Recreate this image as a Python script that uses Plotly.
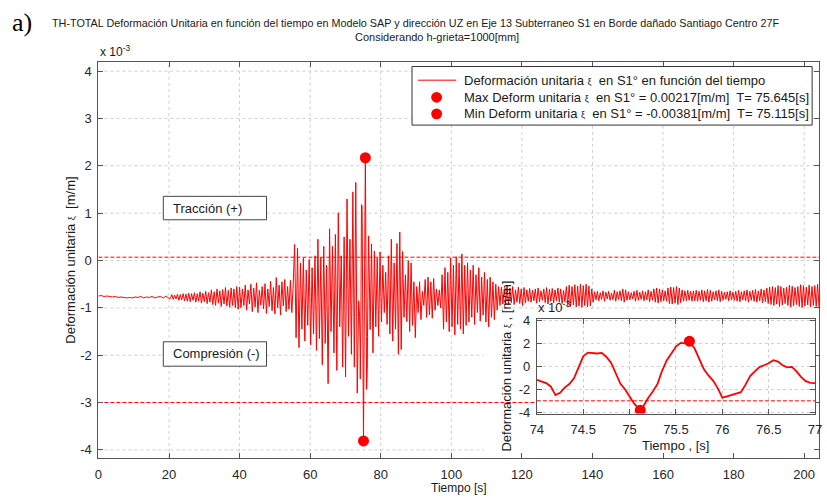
import numpy as np
import plotly.graph_objects as go

# ---------------------------------------------------------------------------
# Unit strain time history (values in x10^-3 m/m), S1 edge, axis 13
# Each window lists the successive peaks/troughs of the record, evenly
# spaced between the window's start and end time.
# ---------------------------------------------------------------------------
quiet_t = (0.0, 20.0)
quiet_v = [-0.75, -0.74, -0.76, -0.75, -0.76, -0.77, -0.76, -0.78, -0.77, -0.78,
           -0.79, -0.78, -0.79, -0.77, -0.78, -0.76, -0.79, -0.77, -0.78, -0.76,
           -0.79, -0.77, -0.76, -0.79, -0.75, -0.80]

onset_t = (20.4, 40.0)
onset_v = [-0.80, -0.72, -0.82, -0.73, -0.81, -0.71, -0.84, -0.72, -0.83, -0.70,
           -0.85, -0.71, -0.86, -0.69, -0.87, -0.70, -0.84, -0.68, -0.88, -0.70,
           -0.86, -0.66, -0.90, -0.69, -0.87, -0.65, -0.91, -0.68, -0.88, -0.62,
           -0.93, -0.66, -0.95, -0.60, -0.90, -0.64, -0.97, -0.61, -0.92, -0.57,
           -0.96, -0.63, -0.99, -0.58, -0.95, -0.60, -1.00, -0.55, -1.03, -0.56]

build_t = (40.4, 55.2)
build_v = [-1.00, -0.60, -0.95, -0.52, -1.05, -0.62, -0.92, -0.50, -1.08, -0.58,
           -0.98, -0.47, -1.10, -0.63, -0.94, -0.55, -1.02, -0.49, -1.12, -0.60,
           -0.97, -0.44, -1.06, -0.57, -1.13, -0.36, -1.00, -0.52, -1.15, -0.45,
           -0.96, -0.40, -1.08, -0.55, -1.03, -0.42, -1.10, -0.50]

strong_t = (55.6, 73.75)
strong_v = [0.34, -1.63, 0.26, -1.84, -0.05, -1.45, 0.05, -1.70, -0.20, -1.37,
            0.02, -1.78, -0.15, -1.55, 0.10, -1.90, 0.45, -1.65, 0.07, -2.20,
            0.30, -1.75, -0.10, -2.60, 0.67, -1.50, 0.30, -1.95, 0.55, -2.32,
            1.01, -1.40, 0.10, -2.25, 0.50, -2.46, 1.30, -1.60, 0.45, -1.98,
            1.45, -2.25, 1.65, -2.80, -0.85]

# detailed window around the extremes (0.05 s sampling)
zoom_t = (74.0, 77.0)
zoom_v = [-1.18, -1.30, -1.46, -1.75, -2.50, -2.30, -1.85, -1.55, -1.05, -0.10,
          0.85, 1.18, 1.12, 1.10, 1.15, 0.80, 0.30, -0.55, -1.50, -2.00,
          -2.60, -3.25, -3.70, -3.45, -2.75, -2.20, -1.55, -0.40, 0.50, 1.10,
          1.70, 2.02, 1.98, 2.10, 1.55, 0.60, -0.25, -0.80, -1.25, -1.90,
          -2.72, -2.62, -2.50, -2.35, -2.25, -1.60, -0.85, -0.45, -0.08, 0.08,
          0.25, 0.52, 0.40, 0.08, -0.10, -0.06, -0.45, -0.95, -1.30, -1.45,
          -1.46]

decay_t = (77.4, 89.8)
decay_v = [0.35, -1.95, 0.20, -1.40, 0.05, -1.60, 0.18, -1.30, -0.10, -1.10,
           -0.25, -1.35, 0.10, -1.55, 0.45, -1.70, -0.05, -1.45, 0.36, -1.98,
           0.60, -1.88, 0.19, -1.20, -0.30, -1.29, 0.00, -1.50, -0.05, -1.37,
           -0.45, -1.63]

coda_t = (90.2, 112.2)
coda_v = [-0.55, -1.10, -0.45, -1.25, -0.65, -0.95, -0.40, -1.20, -0.35, -1.15,
          -0.45, -1.22, -0.38, -1.05, -0.60, -0.95, -0.62, -1.00, -0.30, -1.45,
          -0.15, -1.30, -0.25, -1.50, 0.05, -1.40, -0.10, -1.57, 0.08, -1.35,
          -0.05, -1.45, 0.14, -1.55, -0.10, -1.37, -0.05, -1.30, -0.20, -1.20,
          -0.10, -1.35, -0.30, -1.10, -0.15, -1.28, -0.35, -1.15, -0.25, -1.30,
          -0.40, -1.40, -0.35, -1.20, -0.45, -1.25]

tail1_t = (112.6, 140.2)
tail1_v = [-0.50, -1.05, -0.55, -0.95, -0.56, -0.92, -0.60, -0.90, -0.54, -0.94,
           -0.58, -0.89, -0.55, -0.93, -0.62, -0.88, -0.56, -0.91, -0.60, -0.95,
           -0.57, -0.90, -0.62, -0.86, -0.59, -0.88, -0.63, -0.85, -0.60, -0.90,
           -0.58, -0.87, -0.64, -0.84, -0.60, -0.89, -0.57, -0.92, -0.61, -0.86,
           -0.59, -0.90, -0.62, -0.85, -0.58, -0.88, -0.60, -0.91, -0.63, -0.87,
           -0.55, -0.95, -0.52, -0.97, -0.55, -0.94, -0.51, -0.98, -0.54, -0.96,
           -0.50, -0.99, -0.53, -0.95, -0.50, -0.98, -0.54, -0.96, -0.60, -0.88]

tail2_t = (140.6, 168.2)
tail2_v = [-0.66, -0.83, -0.65, -0.85, -0.68, -0.82, -0.64, -0.86, -0.67, -0.81,
           -0.65, -0.84, -0.69, -0.83, -0.63, -0.86, -0.66, -0.82, -0.64, -0.85,
           -0.60, -0.88, -0.62, -0.84, -0.66, -0.83, -0.68, -0.81, -0.65, -0.86,
           -0.63, -0.84, -0.67, -0.82, -0.64, -0.85, -0.66, -0.83, -0.62, -0.87,
           -0.65, -0.84, -0.60, -0.88, -0.58, -0.90, -0.60, -0.87, -0.62, -0.85,
           -0.64, -0.86, -0.58, -0.91, -0.56, -0.92, -0.57, -0.90, -0.55, -0.93,
           -0.58, -0.89, -0.62, -0.86, -0.64, -0.85, -0.63, -0.84, -0.65, -0.86]

tail3_t = (168.6, 204.2)
tail3_v = [-0.64, -0.85, -0.63, -0.86, -0.65, -0.84, -0.62, -0.87, -0.64, -0.85,
           -0.61, -0.88, -0.63, -0.86, -0.66, -0.83, -0.64, -0.85, -0.62, -0.87,
           -0.65, -0.84, -0.67, -0.82, -0.66, -0.85, -0.64, -0.83, -0.67, -0.84,
           -0.65, -0.86, -0.63, -0.87, -0.66, -0.83, -0.64, -0.85, -0.62, -0.88,
           -0.65, -0.84, -0.63, -0.86, -0.61, -0.88, -0.64, -0.85, -0.60, -0.89,
           -0.62, -0.87, -0.58, -0.91, -0.56, -0.93, -0.55, -0.95, -0.57, -0.92,
           -0.53, -0.97, -0.55, -0.94, -0.58, -0.91, -0.56, -0.95, -0.52, -0.98,
           -0.54, -0.96, -0.57, -0.93, -0.55, -0.97, -0.51, -0.99, -0.53, -0.96,
           -0.56, -0.94, -0.52, -0.98, -0.55, -0.95, -0.53, -0.97, -0.50, -0.99]

# extremes of the record
t_max, v_max = 75.645, 2.17
t_min, v_min = 75.115, -3.81

# reference strain limits (x10^-3)
lim_traccion = 0.07
lim_compresion = -3.0

# axis ticks
x_ticks = [0, 20, 40, 60, 80, 100, 120, 140, 160, 180, 200]
y_ticks = [-4, -3, -2, -1, 0, 1, 2, 3, 4]
zx_ticks = [74, 74.5, 75, 75.5, 76, 76.5, 77]
zy_ticks = [-4, -2, 0, 2, 4]


def fmt(v):
    return "%g" % v


windows = [(quiet_t, quiet_v), (onset_t, onset_v), (build_t, build_v),
           (strong_t, strong_v), (zoom_t, zoom_v), (decay_t, decay_v),
           (coda_t, coda_v), (tail1_t, tail1_v), (tail2_t, tail2_v),
           (tail3_t, tail3_v)]

t_all, v_all = [], []
for (a, b), vals in windows:
    t_all.extend(np.linspace(a, b, len(vals)))
    v_all.extend(vals)
t_all += [t_max, t_min]
v_all += [v_max, v_min]
order = np.argsort(t_all)
t_all = np.asarray(t_all)[order]
v_all = np.asarray(v_all)[order]

zt = list(np.linspace(zoom_t[0], zoom_t[1], len(zoom_v))) + [t_max, t_min]
zv = list(zoom_v) + [v_max, v_min]
zo = np.argsort(zt)
zt = np.asarray(zt)[zo]
zv = np.asarray(zv)[zo]

# ---------------------------------------------------------------------------
W, H = 827, 503
FONT = "Liberation Sans, Arial, sans-serif"
AX = "#555555"
GRID = "#cfcfcf"
RED = "#ff0000"


def px(x):
    return x / W


def py(y):
    return 1 - y / H


X_MAX = 204.2
Y_LO, Y_HI = -4.17, 4.2
# region kept clear of main-grid lines behind the inset (data units)
clear_t = 109.3
clear_v = -1.02

fig = go.Figure()

# main record
fig.add_trace(go.Scatter(x=t_all, y=v_all, mode="lines",
                         line=dict(color=RED, width=1), hoverinfo="skip"))
for lim in (lim_traccion, lim_compresion):
    fig.add_trace(go.Scatter(x=[0, X_MAX], y=[lim, lim], mode="lines",
                             line=dict(color=RED, width=1, dash="4px,2px"),
                             hoverinfo="skip"))
fig.add_trace(go.Scatter(x=[t_max, t_min], y=[v_max, v_min], mode="markers",
                         marker=dict(color=RED, size=11), hoverinfo="skip"))

# inset
fig.add_trace(go.Scatter(x=[zoom_t[0], zoom_t[1]], y=[lim_compresion, lim_compresion],
                         mode="lines", xaxis="x2", yaxis="y2",
                         line=dict(color=RED, width=1, dash="4px,2px"),
                         hoverinfo="skip"))
fig.add_trace(go.Scatter(x=zt, y=zv, mode="lines", xaxis="x2", yaxis="y2",
                         line=dict(color=RED, width=1.8), hoverinfo="skip"))
fig.add_trace(go.Scatter(x=[t_max, t_min], y=[v_max, v_min], mode="markers",
                         xaxis="x2", yaxis="y2",
                         marker=dict(color=RED, size=11), hoverinfo="skip"))

shapes = []
# main grid (dotted), kept out of the inset area
for xt in x_ticks[1:]:
    y0 = clear_v if xt > clear_t else Y_LO
    shapes.append(dict(type="line", xref="x", yref="y", x0=xt, x1=xt, y0=y0, y1=Y_HI,
                       line=dict(color=GRID, width=1, dash="dot"), layer="below"))
for yt in y_ticks:
    x1 = clear_t if yt < clear_v else X_MAX
    shapes.append(dict(type="line", xref="x", yref="y", x0=0, x1=x1, y0=yt, y1=yt,
                       line=dict(color=GRID, width=1, dash="dot"), layer="below"))

# legend box
shapes.append(dict(type="rect", xref="paper", yref="paper",
                   x0=px(412), x1=px(819), y0=py(122), y1=py(62),
                   fillcolor="white", line=dict(color="#333333", width=1), layer="above"))
shapes.append(dict(type="line", xref="paper", yref="paper",
                   x0=px(418), x1=px(457), y0=py(76), y1=py(76),
                   line=dict(color=RED, width=1), layer="above"))
for yc in (93.5, 110.5):
    shapes.append(dict(type="circle", xref="paper", yref="paper",
                       x0=px(437 - 5.5), x1=px(437 + 5.5), y0=py(yc + 5.5), y1=py(yc - 5.5),
                       fillcolor=RED, line=dict(color=RED, width=0), layer="above"))

# Tracción / Compresión boxes
for (ytop, ybot) in ((195, 219), (344, 369)):
    shapes.append(dict(type="rect", xref="paper", yref="paper",
                       x0=px(159), x1=px(264), y0=py(ybot), y1=py(ytop),
                       fillcolor="white", line=dict(color="#444444", width=1), layer="above"))

xi = "<span style='font-size:9px'>ξ</span>"
ann = []


def text(x, y, s, size=13, xanchor="center", yanchor="middle", family=FONT,
         angle=0, color="#1a1a1a"):
    ann.append(dict(x=px(x), y=py(y), xref="paper", yref="paper", text=s,
                    showarrow=False, xanchor=xanchor, yanchor=yanchor,
                    textangle=angle, font=dict(family=family, size=size, color=color)))


text(3, 17, "a)", size=26, xanchor="left", family="Liberation Serif, Times New Roman, serif",
     color="#000000")
text(416, 17, "TH-TOTAL Deformación Unitaria en función del tiempo en Modelo SAP y dirección UZ "
     "en Eje 13 Subterraneo S1 en Borde dañado Santiago Centro 27F", size=10.8)
text(437, 32, "Considerando h-grieta=1000[mm]", size=11)
text(93, 46, "x 10<sup>-3</sup>", size=12, xanchor="left")

text(463, 76, "Deformación unitaria " + xi + "  en S1° en función del tiempo", xanchor="left")
text(463, 93.5, "Max Deform unitaria " + xi + "  en S1° = %.5f[m/m]  T= %.3f[s]"
     % (v_max / 1000, t_max), xanchor="left")
text(463, 110.5, "Min Deform unitaria " + xi + "  en S1° = %.5f[m/m]  T= %.3f[s]"
     % (v_min / 1000, t_min), xanchor="left")

text(167, 207, "Tracción (+)", xanchor="left")
text(167, 356.5, "Compresión (-)", xanchor="left")

text(65, 260, "Deformación unitaria " + xi + "  [m/m]", angle=-90)
text(459.5, 494, "Tiempo [s]", size=12)

text(508, 369, "Deformación unitaria " + xi + " , [m/m]", angle=-90)
text(680, 450, "Tiempo , [s]")
text(538, 308, "x 10<sup>-3</sup>", xanchor="left", size=13)

axis_common = dict(showline=True, linecolor=AX, linewidth=1, mirror="allticks",
                   ticks="inside", ticklen=5, tickcolor=AX, zeroline=False,
                   ticklabeloverflow="allow",
                   tickfont=dict(family=FONT, size=13, color="#262626"))

fig.update_layout(
    width=W, height=H, margin=dict(l=0, r=0, t=0, b=0),
    paper_bgcolor="white", plot_bgcolor="white", showlegend=False,
    xaxis=dict(domain=[px(93), px(826)], range=[0, X_MAX], anchor="y",
               tickvals=x_ticks, ticktext=[fmt(v) for v in x_ticks],
               showgrid=False, ticklabelstandoff=4, **axis_common),
    yaxis=dict(domain=[py(463), py(57)], range=[Y_LO, Y_HI], anchor="x",
               tickvals=y_ticks, ticktext=[fmt(v) for v in y_ticks],
               showgrid=False, ticklabelstandoff=3, **axis_common),
    xaxis2=dict(domain=[px(539), px(822)], range=[74, 77], anchor="y2",
                tickvals=zx_ticks, ticktext=[fmt(v) for v in zx_ticks],
                showgrid=True, gridcolor=GRID, griddash="dot", ticklabelstandoff=4,
                **axis_common),
    yaxis2=dict(domain=[py(417.5), py(320.5)], range=[-4.1, 4.1], anchor="x2",
                tickvals=zy_ticks, ticktext=[fmt(v) for v in zy_ticks],
                showgrid=True, gridcolor=GRID, griddash="dot", ticklabelstandoff=3,
                **axis_common),
    shapes=shapes, annotations=ann,
)

fig.write_html("out.html")
